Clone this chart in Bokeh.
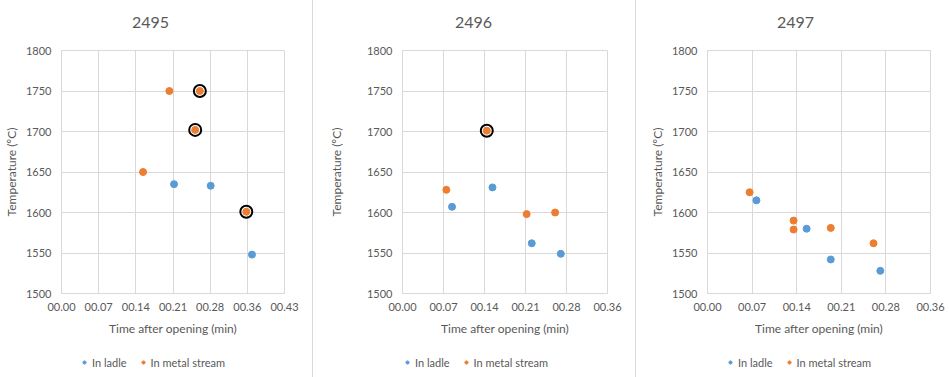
from bokeh.plotting import figure
from bokeh.layouts import row, column
from bokeh.models import FixedTicker, Legend, LegendItem, Div, Range1d, Label
from bokeh.embed import file_html
from bokeh.resources import INLINE

# Heat numbers shown as panel titles
heats = ["2495", "2496", "2497"]

# Time after opening, minutes (axis ticks every 7.2 min)
ladle_x_2495 = [21.8, 28.9, 36.9]
ladle_y_2495 = [1635, 1633, 1548]
stream_x_2495 = [15.8, 20.9, 25.9, 26.8, 35.8]
stream_y_2495 = [1650, 1750, 1702, 1750, 1601]
ringed_2495 = [2, 3, 4]

ladle_x_2496 = [8.7, 15.8, 22.7, 27.8]
ladle_y_2496 = [1607, 1631, 1562, 1549]
stream_x_2496 = [7.7, 14.8, 21.8, 26.8]
stream_y_2496 = [1628, 1701, 1598, 1600]
ringed_2496 = [1]

ladle_x_2497 = [7.9, 16.0, 19.9, 27.9]
ladle_y_2497 = [1615, 1580, 1542, 1528]
stream_x_2497 = [6.8, 13.9, 13.9, 19.9, 26.8]
stream_y_2497 = [1625, 1590, 1579, 1581, 1562]
ringed_2497 = []

x_ticks = [0, 7.2, 14.4, 21.6, 28.8, 36.0, 43.2]
x_tick_labels = ["00.00", "00.07", "00.14", "00.21", "00.28", "00.36", "00.43"]
y_ticks = [1500, 1550, 1600, 1650, 1700, 1750, 1800]
series_names = ["In ladle", "In metal stream"]

BLUE = "#5B9BD5"
ORANGE = "#ED7D31"
GRID = "#D9D9D9"
TEXT = "#595959"
FONT = "Lato"
FRAME_H = 243
HEAD_H = 40
FOOT_H = 34


def blank(width, height):
    b = figure(width=width, height=height, output_backend="svg", toolbar_location=None,
               x_range=Range1d(0, 1), y_range=Range1d(0, 1),
               x_axis_location=None, y_axis_location=None,
               min_border=0, outline_line_color=None)
    b.grid.visible = False
    return b


def panel(title, lx, ly, sx, sy, ringed, x_max, frame_w, left, right,
          ylab_standoff, title_x, legend_x):
    width = left + frame_w + right

    # title strip (its frame lines up with the chart's plotting area)
    head = blank(width, HEAD_H)
    head.add_layout(Label(x=title_x - left, y=HEAD_H - 22, x_units="screen",
                          y_units="screen", text=title, text_font=FONT,
                          text_font_size="16px", text_color=TEXT,
                          text_align="center", text_baseline="middle"))

    p = figure(frame_width=frame_w, frame_height=FRAME_H, output_backend="svg",
               toolbar_location=None,
               x_range=Range1d(0, x_max), y_range=Range1d(1500, 1800),
               min_border_left=left, min_border_right=right,
               min_border_top=50 - HEAD_H, min_border_bottom=50)

    n = int(round(x_max / 7.2)) + 1
    p.xaxis.ticker = FixedTicker(ticks=x_ticks[:n])
    p.xaxis.major_label_overrides = {x_ticks[i]: x_tick_labels[i] for i in range(n)}
    p.yaxis.ticker = FixedTicker(ticks=y_ticks)
    p.xaxis.axis_label = "Time after opening (min)"
    p.yaxis.axis_label = "Temperature (ºC)"
    for ax in (p.xaxis[0], p.yaxis[0]):
        ax.axis_line_color = GRID
        ax.major_tick_line_color = None
        ax.minor_tick_line_color = None
        ax.major_tick_out = 0
        ax.major_tick_in = 0
        ax.minor_tick_out = 0
        ax.major_label_text_font = FONT
        ax.major_label_text_font_size = "11px"
        ax.major_label_text_color = TEXT
        ax.axis_label_text_font = FONT
        ax.axis_label_text_font_size = "12px"
        ax.axis_label_text_font_style = "normal"
        ax.axis_label_text_color = TEXT
    p.yaxis.major_label_standoff = 10
    p.xaxis.major_label_standoff = 9
    p.yaxis.axis_label_standoff = ylab_standoff
    p.xaxis.axis_label_standoff = 7

    p.xgrid.grid_line_color = GRID
    p.ygrid.grid_line_color = GRID
    p.outline_line_color = GRID

    p.scatter(lx, ly, size=7, color=BLUE)
    p.scatter(sx, sy, size=7, color=ORANGE)
    if ringed:
        p.scatter([sx[i] for i in ringed], [sy[i] for i in ringed], size=12,
                  fill_color=None, line_color="black", line_width=2)

    # legend strip; its key renderers carry the series but fall outside its 0..1 ranges
    foot = blank(width, FOOT_H)
    k1 = foot.scatter(x=lx, y=ly, size=7, color=BLUE)
    k2 = foot.scatter(x=sx, y=sy, size=7, color=ORANGE)
    leg = Legend(items=[LegendItem(label=series_names[0], renderers=[k1]),
                        LegendItem(label=series_names[1], renderers=[k2])],
                 orientation="horizontal", location=(legend_x - left, FOOT_H - 19 - 8),
                 border_line_color=None, background_fill_alpha=0,
                 label_text_font=FONT, label_text_font_size="11px",
                 label_text_color=TEXT, glyph_width=8, glyph_height=8,
                 label_height=16, label_standoff=4, spacing=12, padding=0, margin=0)
    foot.add_layout(leg, "center")
    return column(head, p, foot, spacing=0)


p1 = panel(heats[0], ladle_x_2495, ladle_y_2495, stream_x_2495, stream_y_2495,
           ringed_2495, 43.2, 223, 61, 28, 4, 150, 80)
p2 = panel(heats[1], ladle_x_2496, ladle_y_2496, stream_x_2496, stream_y_2496,
           ringed_2496, 36.0, 205, 89, 28, 20, 160, 90)
p3 = panel(heats[2], ladle_x_2497, ladle_y_2497, stream_x_2497, stream_y_2497,
           ringed_2497, 36.0, 223, 71, 19, 4, 159, 90)


def sep():
    return Div(width=1, height=377, styles={"background-color": GRID}, margin=0)


layout = row(p1, sep(), p2, sep(), p3, spacing=0)
open("out.html", "w").write(file_html(layout, INLINE))
